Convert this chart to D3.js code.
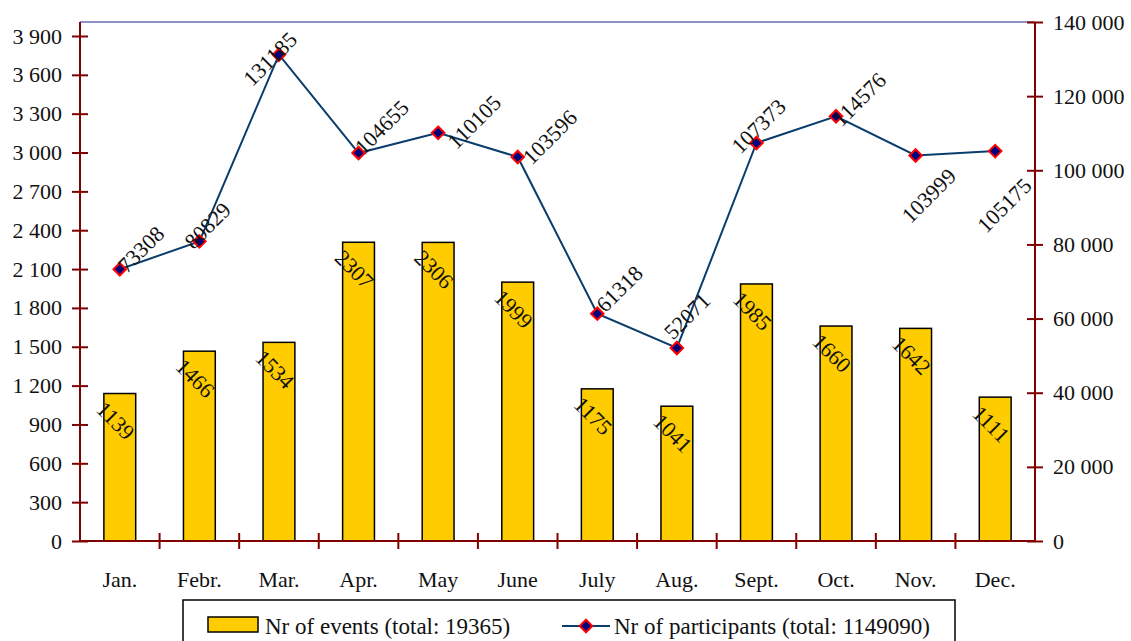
<!DOCTYPE html>
<html>
<head>
<meta charset="utf-8">
<script src="https://cdn.jsdelivr.net/npm/d3@7"></script>
<style>
  html, body { margin: 0; padding: 0; background: #fff; }
  svg { display: block; }
</style>
</head>
<body>
<div id="chart"></div>
<script>
// Events and participants per month
const months = ['Jan.', 'Febr.', 'Mar.', 'Apr.', 'May', 'June', 'July', 'Aug.', 'Sept.', 'Oct.', 'Nov.', 'Dec.'];
const events = [1139, 1466, 1534, 2307, 2306, 1999, 1175, 1041, 1985, 1660, 1642, 1111];
const participants = [73308, 80829, 131185, 104655, 110105, 103596, 61318, 52071, 107373, 114576, 103999, 105175];
const leftTicks = [0, 300, 600, 900, 1200, 1500, 1800, 2100, 2400, 2700, 3000, 3300, 3600, 3900];
const rightTicks = [0, 20000, 40000, 60000, 80000, 100000, 120000, 140000];
const legendLabels = ['Nr of events (total: 19365)', 'Nr of participants (total: 1149090)'];

// label nudges for participant labels (Excel places them a bit irregularly)
const partLabelShift = [[21, -20], [8, -16], [-9, 4], [23, -26], [36, -11], [32, -20],
                        [22, -25], [10, -32], [2, -17], [23, -17], [13, 40], [9, 54]];

const width = 1131;
const height = 641;
const margin = { top: 22, right: 96, bottom: 100, left: 80 };
const innerW = width - margin.left - margin.right;   // 955
const innerH = height - margin.top - margin.bottom;  // 519

const serif = "Liberation Serif, DejaVu Serif, serif";
const axisColor = '#800000';
const textColor = '#111';
const fmt = v => d3.format(',')(v).replace(/,/g, ' ');

const svg = d3.select('#chart').append('svg')
  .attr('width', width)
  .attr('height', height)
  .attr('font-family', serif);

const g = svg.append('g')
  .attr('transform', `translate(${margin.left},${margin.top})`);

// Scales
const x = d3.scaleBand()
  .domain(months)
  .range([0, innerW])
  .paddingInner(0.6)
  .paddingOuter(0.3);

const yLeft = d3.scaleLinear()
  .domain([0, 4008])
  .range([innerH, 0]);

const yRight = d3.scaleLinear()
  .domain([0, 140000])
  .range([innerH, 0]);

// top border of the plot area
g.append('line')
  .attr('x1', 0).attr('x2', innerW)
  .attr('y1', 0).attr('y2', 0)
  .style('stroke', '#6c6cb4')
  .style('stroke-width', 1.5);

// Bars
g.selectAll('.bar')
  .data(events)
  .enter().append('rect')
  .attr('class', 'bar')
  .attr('x', (d, i) => x(months[i]))
  .attr('y', d => yLeft(d))
  .attr('width', x.bandwidth())
  .attr('height', d => innerH - yLeft(d))
  .style('fill', '#ffcc00')
  .style('stroke', '#000')
  .style('stroke-width', 1.5);

// Bar labels (rotated down-right)
g.selectAll('.bar-label')
  .data(events)
  .enter().append('text')
  .attr('class', 'bar-label')
  .attr('transform', (d, i) => {
    const cx = x(months[i]) + x.bandwidth() / 2 - 4;
    const cy = yLeft(d) + 27;
    return `translate(${cx},${cy}) rotate(45)`;
  })
  .attr('text-anchor', 'middle')
  .attr('dy', '0.35em')
  .attr('font-size', 22)
  .attr('fill', textColor)
  .text(d => d);

// Axes
const xAxis = g.append('g')
  .attr('transform', `translate(0,${innerH})`);

xAxis.append('line')
  .attr('x1', 0).attr('x2', innerW)
  .style('stroke', axisColor)
  .style('stroke-width', 2);

xAxis.selectAll('.xtick')
  .data(months.slice(1))
  .enter().append('line')
  .attr('class', 'xtick')
  .attr('x1', d => x(d) - x.step() * x.paddingInner() / 2)
  .attr('x2', d => x(d) - x.step() * x.paddingInner() / 2)
  .attr('y1', -8).attr('y2', 8)
  .style('stroke', axisColor)
  .style('stroke-width', 2);

xAxis.selectAll('.xlabel')
  .data(months)
  .enter().append('text')
  .attr('class', 'xlabel')
  .attr('x', d => x(d) + x.bandwidth() / 2)
  .attr('y', 46)
  .attr('text-anchor', 'middle')
  .attr('font-size', 22)
  .attr('fill', textColor)
  .text(d => d);

const leftAxis = g.append('g')
  .call(d3.axisLeft(yLeft).tickValues(leftTicks).tickFormat(fmt).tickSize(8).tickSizeOuter(0).tickPadding(10));

const rightAxis = g.append('g')
  .attr('transform', `translate(${innerW},0)`)
  .call(d3.axisRight(yRight).tickValues(rightTicks).tickFormat(fmt).tickSize(8).tickSizeOuter(0).tickPadding(10));

[leftAxis, rightAxis].forEach(ax => {
  ax.attr('font-family', null).attr('font-size', null);
  ax.select('.domain')
    .attr('d', `M0,0V${innerH}`)
    .style('stroke', axisColor)
    .style('stroke-width', 2);
  ax.selectAll('.tick line')
    .attr('x1', -8).attr('x2', 8)
    .style('stroke', axisColor)
    .style('stroke-width', 2);
  ax.selectAll('.tick text')
    .attr('font-family', serif)
    .attr('font-size', 22)
    .attr('fill', textColor);
});

// Participants line
const cx = i => x(months[i]) + x.bandwidth() / 2;

const line = d3.line()
  .x((d, i) => cx(i))
  .y(d => yRight(d));

g.append('path')
  .datum(participants)
  .attr('d', line)
  .style('fill', 'none')
  .style('stroke', '#0a3d6b')
  .style('stroke-width', 2);

g.selectAll('.marker')
  .data(participants)
  .enter().append('path')
  .attr('class', 'marker')
  .attr('d', d3.symbol().type(d3.symbolDiamond2).size(100))
  .attr('transform', (d, i) => `translate(${cx(i)},${yRight(d)})`)
  .style('fill', '#000080')
  .style('stroke', '#ff0000')
  .style('stroke-width', 2);

g.selectAll('.part-label')
  .data(participants)
  .enter().append('text')
  .attr('class', 'part-label')
  .attr('transform', (d, i) => {
    const [dx, dy] = partLabelShift[i];
    return `translate(${cx(i) + dx},${yRight(d) + dy}) rotate(-45)`;
  })
  .attr('text-anchor', 'middle')
  .attr('dy', '0.35em')
  .attr('font-size', 22)
  .attr('fill', textColor)
  .text(d => d);

// Legend
const legend = svg.append('g')
  .attr('transform', 'translate(183,600)');

legend.append('rect')
  .attr('width', 772)
  .attr('height', 50)
  .style('fill', '#fff')
  .style('stroke', '#000')
  .style('stroke-width', 1.5);

legend.append('rect')
  .attr('x', 25).attr('y', 17)
  .attr('width', 50).attr('height', 15)
  .style('fill', '#ffcc00')
  .style('stroke', '#000')
  .style('stroke-width', 1.5);

legend.append('text')
  .attr('x', 82).attr('y', 34)
  .attr('font-size', 23)
  .attr('fill', textColor)
  .text(legendLabels[0]);

legend.append('line')
  .attr('x1', 379).attr('x2', 427)
  .attr('y1', 26).attr('y2', 26)
  .style('stroke', '#0a3d6b')
  .style('stroke-width', 2);

legend.append('path')
  .attr('d', d3.symbol().type(d3.symbolDiamond2).size(100))
  .attr('transform', 'translate(403,26)')
  .style('fill', '#000080')
  .style('stroke', '#ff0000')
  .style('stroke-width', 2);

legend.append('text')
  .attr('x', 431).attr('y', 34)
  .attr('font-size', 23)
  .attr('fill', textColor)
  .text(legendLabels[1]);
</script>
</body>
</html>
